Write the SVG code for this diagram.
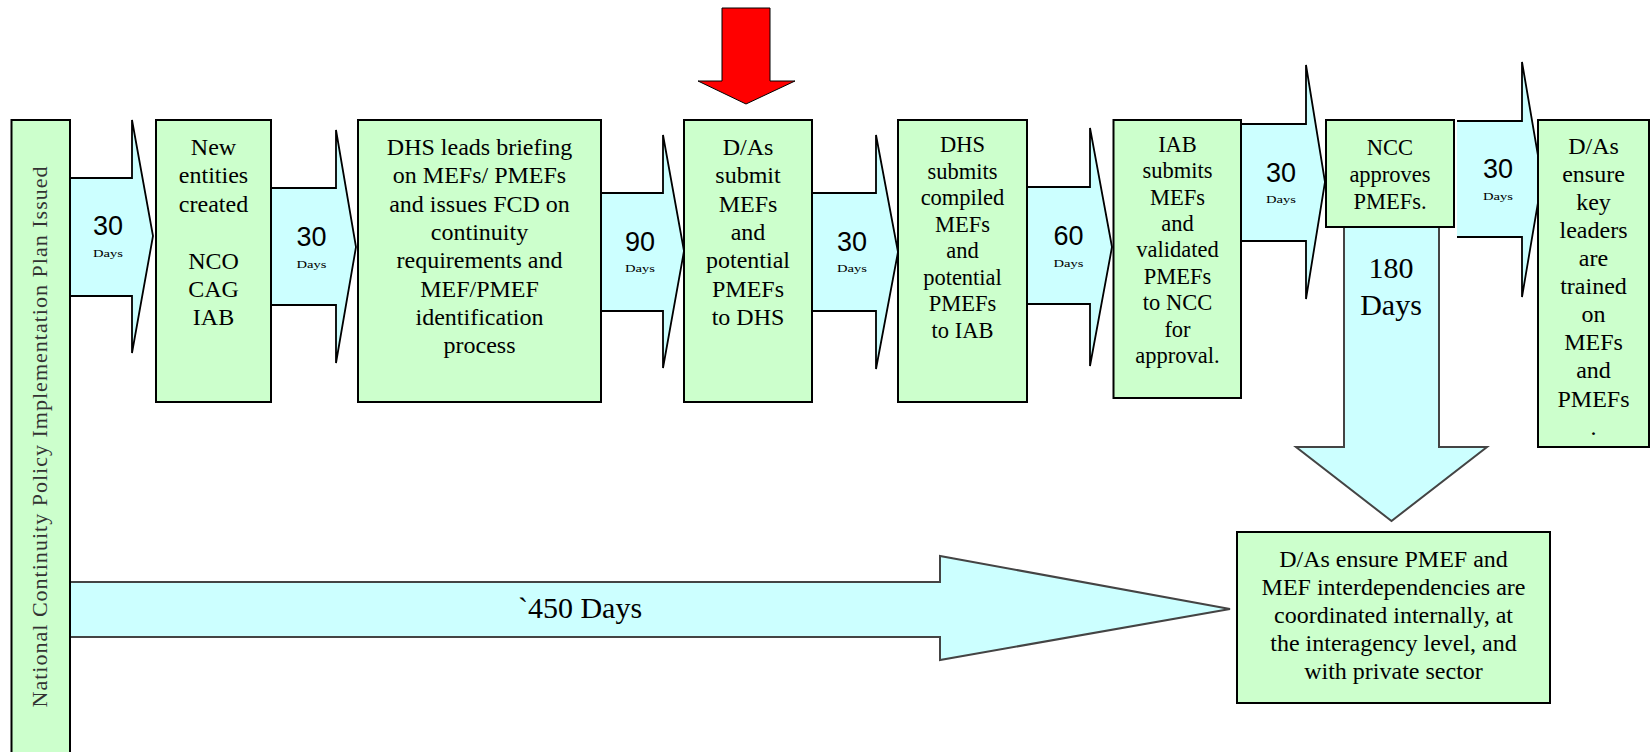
<svg xmlns="http://www.w3.org/2000/svg" width="1651" height="752" viewBox="0 0 1651 752">
<style>
.box{fill:#CCFFCC;stroke:#000;stroke-width:2}
.af{fill:#CCFFFF;stroke:none}
.ao{fill:none;stroke:#000;stroke-width:1.8;stroke-linejoin:miter}
.ag{fill:none;stroke:#444;stroke-width:2;stroke-linejoin:miter}
</style>
<rect width="1651" height="752" fill="#ffffff"/>

<g id="connectors">
  <g id="arrow1">
    <polygon class="af" points="70,178 132,178 132,120 153,236 132,353 132,296 70,296"/>
    <polyline class="ao" points="70,178 132,178 132,120 153,236 132,353 132,296 70,296"/>
    <text font-family="'Liberation Sans',Arial,sans-serif" font-size="27" text-anchor="middle" x="108" y="235">30</text>
    <text font-family="'Liberation Serif','Times New Roman',serif" font-size="11" text-anchor="middle" x="108" y="257" textLength="30" lengthAdjust="spacingAndGlyphs">Days</text>
  </g>
  <g id="arrow2">
    <polygon class="af" points="271,188 336,188 336,130 356,247 336,363 336,305 271,305"/>
    <polyline class="ao" points="271,188 336,188 336,130 356,247 336,363 336,305 271,305"/>
    <text font-family="'Liberation Sans',Arial,sans-serif" font-size="27" text-anchor="middle" x="311.5" y="245.5">30</text>
    <text font-family="'Liberation Serif','Times New Roman',serif" font-size="11" text-anchor="middle" x="311.5" y="268" textLength="30" lengthAdjust="spacingAndGlyphs">Days</text>
  </g>
  <g id="arrow3">
    <polygon class="af" points="601,193 663,193 663,135 684,251 663,368 663,311 601,311"/>
    <polyline class="ao" points="601,193 663,193 663,135 684,251 663,368 663,311 601,311"/>
    <text font-family="'Liberation Sans',Arial,sans-serif" font-size="27" text-anchor="middle" x="640" y="250.5">90</text>
    <text font-family="'Liberation Serif','Times New Roman',serif" font-size="11" text-anchor="middle" x="640" y="272" textLength="30" lengthAdjust="spacingAndGlyphs">Days</text>
  </g>
  <g id="arrow4">
    <polygon class="af" points="812,193 876,193 876,135 898,252 876,369 876,311 812,311"/>
    <polyline class="ao" points="812,193 876,193 876,135 898,252 876,369 876,311 812,311"/>
    <text font-family="'Liberation Sans',Arial,sans-serif" font-size="27" text-anchor="middle" x="852" y="250.5">30</text>
    <text font-family="'Liberation Serif','Times New Roman',serif" font-size="11" text-anchor="middle" x="852" y="272" textLength="30" lengthAdjust="spacingAndGlyphs">Days</text>
  </g>
  <g id="arrow5">
    <polygon class="af" points="1027,187 1090,187 1090,128 1112,247 1090,366 1090,304 1027,304"/>
    <polyline class="ao" points="1027,187 1090,187 1090,128 1112,247 1090,366 1090,304 1027,304"/>
    <text font-family="'Liberation Sans',Arial,sans-serif" font-size="27" text-anchor="middle" x="1068.5" y="245">60</text>
    <text font-family="'Liberation Serif','Times New Roman',serif" font-size="11" text-anchor="middle" x="1068.5" y="267" textLength="30" lengthAdjust="spacingAndGlyphs">Days</text>
  </g>
  <g id="arrow6">
    <polygon class="af" points="1241,124 1306,124 1306,65 1325,182 1306,299 1306,241 1241,241"/>
    <polyline class="ao" points="1241,124 1306,124 1306,65 1325,182 1306,299 1306,241 1241,241"/>
    <text font-family="'Liberation Sans',Arial,sans-serif" font-size="27" text-anchor="middle" x="1281" y="181.5">30</text>
    <text font-family="'Liberation Serif','Times New Roman',serif" font-size="11" text-anchor="middle" x="1281" y="203" textLength="30" lengthAdjust="spacingAndGlyphs">Days</text>
  </g>
  <g id="arrow7">
    <polygon class="af" points="1457,121 1522,121 1522,62 1542,179 1522,297 1522,237 1457,237"/>
    <polyline class="ao" points="1457,121 1522,121 1522,62 1542,179 1522,297 1522,237 1457,237"/>
    <text font-family="'Liberation Sans',Arial,sans-serif" font-size="27" text-anchor="middle" x="1498" y="178">30</text>
    <text font-family="'Liberation Serif','Times New Roman',serif" font-size="11" text-anchor="middle" x="1498" y="200" textLength="30" lengthAdjust="spacingAndGlyphs">Days</text>
  </g>
  <g id="arrow180">
    <polygon class="af" points="1344,227 1344,447 1296,447 1391.5,521 1487,447 1439,447 1439,227"/>
    <polyline class="ag" points="1344,227 1344,447 1296,447 1391.5,521 1487,447 1439,447 1439,227"/>
    <text font-family="'Liberation Serif','Times New Roman',serif" font-size="30" text-anchor="middle" x="1391" y="278">180</text>
    <text font-family="'Liberation Serif','Times New Roman',serif" font-size="30" text-anchor="middle" x="1391" y="315">Days</text>
  </g>
  <g id="arrow450">
    <polygon class="af" points="70,582 940,582 940,556 1230,609 940,660 940,637 70,637"/>
    <polyline class="ag" points="70,582 940,582 940,556 1230,609 940,660 940,637 70,637"/>
    <text font-family="'Liberation Serif','Times New Roman',serif" font-size="30" text-anchor="middle" x="580" y="618">`450 Days</text>
  </g>
  <g id="redArrow">
    <polygon points="722,8 770,8 770,81 795,81 746,104 698,81 722,81" fill="#FF0000" stroke="#000" stroke-width="1"/>
  </g>
</g>

<g id="node-issued">
  <rect class="box" x="11.5" y="120" width="58.5" height="645"/>
  <text transform="translate(47,437) rotate(-90)" font-family="'Liberation Serif','Times New Roman',serif" font-size="22" fill="#333" text-anchor="middle" textLength="541" lengthAdjust="spacing">National Continuity Policy Implementation Plan Issued</text>
</g>

<g id="node-new-entities">
  <rect class="box" x="156" y="120" width="115" height="282"/>
  <text font-family="'Liberation Serif','Times New Roman',serif" font-size="24" text-anchor="middle"><tspan x="213.5" y="155">New</tspan><tspan x="213.5" y="183.4">entities</tspan><tspan x="213.5" y="211.8">created</tspan><tspan x="213.5" y="268.6">NCO</tspan><tspan x="213.5" y="297">CAG</tspan><tspan x="213.5" y="325.4">IAB</tspan></text>
</g>

<g id="node-dhs-briefing">
  <rect class="box" x="358" y="120" width="243" height="282"/>
  <text font-family="'Liberation Serif','Times New Roman',serif" font-size="24" text-anchor="middle"><tspan x="479.5" y="155">DHS leads briefing</tspan><tspan x="479.5" y="183.3">on MEFs/ PMEFs</tspan><tspan x="479.5" y="211.6">and issues FCD on</tspan><tspan x="479.5" y="239.9">continuity</tspan><tspan x="479.5" y="268.2">requirements and</tspan><tspan x="479.5" y="296.5">MEF/PMEF</tspan><tspan x="479.5" y="324.8">identification</tspan><tspan x="479.5" y="353.1">process</tspan></text>
</g>

<g id="node-das-submit">
  <rect class="box" x="684" y="120" width="128" height="282"/>
  <text font-family="'Liberation Serif','Times New Roman',serif" font-size="24" text-anchor="middle"><tspan x="748" y="155">D/As</tspan><tspan x="748" y="183.3">submit</tspan><tspan x="748" y="211.6">MEFs</tspan><tspan x="748" y="239.9">and</tspan><tspan x="748" y="268.2">potential</tspan><tspan x="748" y="296.5">PMEFs</tspan><tspan x="748" y="324.8">to DHS</tspan></text>
</g>

<g id="node-dhs-submits">
  <rect class="box" x="898" y="120" width="129" height="282"/>
  <text font-family="'Liberation Serif','Times New Roman',serif" font-size="22.5" text-anchor="middle"><tspan x="962.5" y="152">DHS</tspan><tspan x="962.5" y="178.5">submits</tspan><tspan x="962.5" y="205">compiled</tspan><tspan x="962.5" y="231.5">MEFs</tspan><tspan x="962.5" y="258">and</tspan><tspan x="962.5" y="284.5">potential</tspan><tspan x="962.5" y="311">PMEFs</tspan><tspan x="962.5" y="337.5">to IAB</tspan></text>
</g>

<g id="node-iab-submits">
  <rect class="box" x="1113.5" y="120" width="127.5" height="278"/>
  <text font-family="'Liberation Serif','Times New Roman',serif" font-size="22.5" text-anchor="middle"><tspan x="1177.5" y="151.7">IAB</tspan><tspan x="1177.5" y="178.1">submits</tspan><tspan x="1177.5" y="204.5">MEFs</tspan><tspan x="1177.5" y="230.9">and</tspan><tspan x="1177.5" y="257.3">validated</tspan><tspan x="1177.5" y="283.7">PMEFs</tspan><tspan x="1177.5" y="310.1">to NCC</tspan><tspan x="1177.5" y="336.5">for</tspan><tspan x="1177.5" y="362.9">approval.</tspan></text>
</g>

<g id="node-ncc">
  <rect class="box" x="1326" y="120" width="128" height="107"/>
  <text font-family="'Liberation Serif','Times New Roman',serif" font-size="22.5" text-anchor="middle"><tspan x="1390" y="155">NCC</tspan><tspan x="1390" y="182">approves</tspan><tspan x="1390" y="209">PMEFs.</tspan></text>
</g>

<g id="node-das-trained">
  <rect class="box" x="1538" y="120" width="111" height="327"/>
  <text font-family="'Liberation Serif','Times New Roman',serif" font-size="24" text-anchor="middle"><tspan x="1593.5" y="154">D/As</tspan><tspan x="1593.5" y="182">ensure</tspan><tspan x="1593.5" y="210">key</tspan><tspan x="1593.5" y="238">leaders</tspan><tspan x="1593.5" y="266">are</tspan><tspan x="1593.5" y="294">trained</tspan><tspan x="1593.5" y="322">on</tspan><tspan x="1593.5" y="350">MEFs</tspan><tspan x="1593.5" y="378">and</tspan><tspan x="1593.5" y="406.5">PMEFs</tspan><tspan x="1593.5" y="435">.</tspan></text>
</g>

<g id="node-interdependencies">
  <rect class="box" x="1237" y="532" width="313" height="171"/>
  <text font-family="'Liberation Serif','Times New Roman',serif" font-size="24" text-anchor="middle"><tspan x="1393.5" y="566.7">D/As ensure PMEF and</tspan><tspan x="1393.5" y="594.8">MEF interdependencies are</tspan><tspan x="1393.5" y="622.9">coordinated internally, at</tspan><tspan x="1393.5" y="651">the interagency level, and</tspan><tspan x="1393.5" y="679">with private sector</tspan></text>
</g>
</svg>
